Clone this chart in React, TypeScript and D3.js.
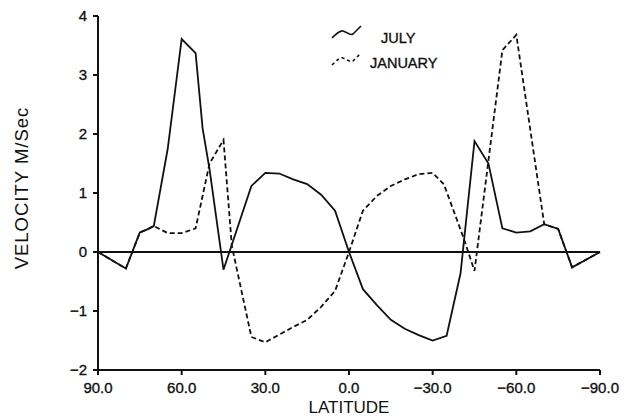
import React from "react";
import * as d3 from "d3";

const julyLat = [90, 80, 75, 72.5, 70, 65, 60, 55, 52.5, 50, 45, 35, 30, 25, 20, 15, 10, 5, 0, -5, -10, -15, -20, -25, -30, -35, -40, -45, -50, -55, -60, -65, -70, -75, -80, -90];
const julyVel = [0, -0.28, 0.33, 0.38, 0.44, 1.75, 3.61, 3.37, 2.1, 1.4, -0.3, 1.12, 1.34, 1.33, 1.23, 1.15, 0.97, 0.7, 0, -0.63, -0.9, -1.15, -1.3, -1.41, -1.5, -1.42, -0.36, 1.88, 1.5, 0.4, 0.33, 0.35, 0.47, 0.39, -0.26, 0];

const janLat = [90, 80, 75, 72.5, 70, 65, 60, 55, 50, 45, 42, 35, 30, 25, 20, 15, 10, 5, 0, -5, -10, -15, -20, -25, -30, -34, -41, -45, -55, -60, -70, -75, -80, -90];
const janVel = [0, -0.28, 0.33, 0.38, 0.44, 0.32, 0.32, 0.4, 1.5, 1.9, 0.1, -1.44, -1.53, -1.4, -1.27, -1.15, -0.93, -0.66, 0, 0.7, 0.95, 1.12, 1.23, 1.32, 1.34, 1.15, 0.25, -0.32, 3.42, 3.68, 0.47, 0.39, -0.26, 0];

const xTicks = [90, 60, 30, 0, -30, -60, -90];
const xTickLabels = ["90.0", "60.0", "30.0", "0.0", "\u221230.0", "\u221260.0", "\u221290.0"];
const yTicks = [4, 3, 2, 1, 0, -1, -2];
const yTickLabels = ["4", "3", "2", "1", "0", "\u22121", "\u22122"];
const seriesNames = ["JULY", "JANUARY"];

const W = 624;
const H = 416;
const FONT = "'Liberation Sans', Arial, Helvetica, sans-serif";

export default function App() {
  const x = d3.scaleLinear().domain([90, -90]).range([98, 600]);
  const y = d3.scaleLinear().domain([-2, 4]).range([370, 16]);

  const line = d3
    .line<[number, number]>()
    .x((d) => x(d[0]))
    .y((d) => y(d[1]));

  const julyPts: [number, number][] = julyLat.map((l, i) => [l, julyVel[i]]);
  const janPts: [number, number][] = janLat.map((l, i) => [l, janVel[i]]);

  const x0 = x(90);
  const x1 = x(-90);
  const yBottom = y(-2);
  const yTop = y(4);

  const lgX = 332;
  const glyph = (dy: number) =>
    `M${lgX},${dy + 12} C${lgX + 4},${dy + 8} ${lgX + 8},${dy + 4} ${lgX + 11},${dy + 5} C${lgX + 15},${dy + 6} ${lgX + 18},${dy + 10} ${lgX + 21},${dy + 8} L${lgX + 29},${dy}`;

  const labelStyle = { stroke: "#111", strokeWidth: 0.35 };

  return (
    <svg
      width={W}
      height={H}
      style={{ position: "absolute", left: 0, top: 0, background: "#fff" }}
      fontFamily={FONT}
    >
      <rect x={0} y={0} width={W} height={H} fill="#fff" />
      {/* y axis */}
      <line x1={x0} x2={x0} y1={yTop} y2={yBottom + 5} stroke="#111" strokeWidth={2} />
      {yTicks.map((t, i) => (
        <g key={"yt" + t}>
          <line x1={x0 - 5} x2={x0} y1={y(t)} y2={y(t)} stroke="#111" strokeWidth={2} />
          <text x={87} y={y(t) + 5} textAnchor="end" fontSize={15} fill="#111" style={labelStyle}>
            {yTickLabels[i]}
          </text>
        </g>
      ))}
      {/* x axis */}
      <line x1={x0} x2={x1} y1={yBottom} y2={yBottom} stroke="#111" strokeWidth={2} />
      {xTicks.map((t, i) => (
        <g key={"xt" + t}>
          <line x1={x(t)} x2={x(t)} y1={yBottom} y2={yBottom + 5} stroke="#111" strokeWidth={2} />
          <text x={x(t)} y={393} textAnchor="middle" fontSize={15} fill="#111" style={labelStyle}>
            {xTickLabels[i]}
          </text>
        </g>
      ))}
      {/* zero line */}
      <line x1={x0} x2={x1} y1={y(0)} y2={y(0)} stroke="#111" strokeWidth={2} />

      {/* series */}
      <path d={line(janPts) ?? ""} fill="none" stroke="#111" strokeWidth={1.8} strokeDasharray="5,3" />
      <path d={line(julyPts) ?? ""} fill="none" stroke="#111" strokeWidth={1.8} />

      {/* legend */}
      <path d={glyph(26)} fill="none" stroke="#111" strokeWidth={1.6} />
      <text x={381} y={43} fontSize={14.5} fill="#111" style={labelStyle}>
        {seriesNames[0]}
      </text>
      <path d={glyph(53)} fill="none" stroke="#111" strokeWidth={1.6} strokeDasharray="3,3" />
      <text x={370} y={68} fontSize={14.5} fill="#111" style={labelStyle}>
        {seriesNames[1]}
      </text>

      {/* axis titles */}
      <text x={349} y={413} textAnchor="middle" fontSize={17} fill="#111">
        LATITUDE
      </text>
      <text
        transform={`translate(28,${188}) rotate(-90)`}
        textAnchor="middle"
        fontSize={18.5}
        letterSpacing={1}
        fill="#111"
      >
        VELOCITY M/Sec
      </text>
    </svg>
  );
}
